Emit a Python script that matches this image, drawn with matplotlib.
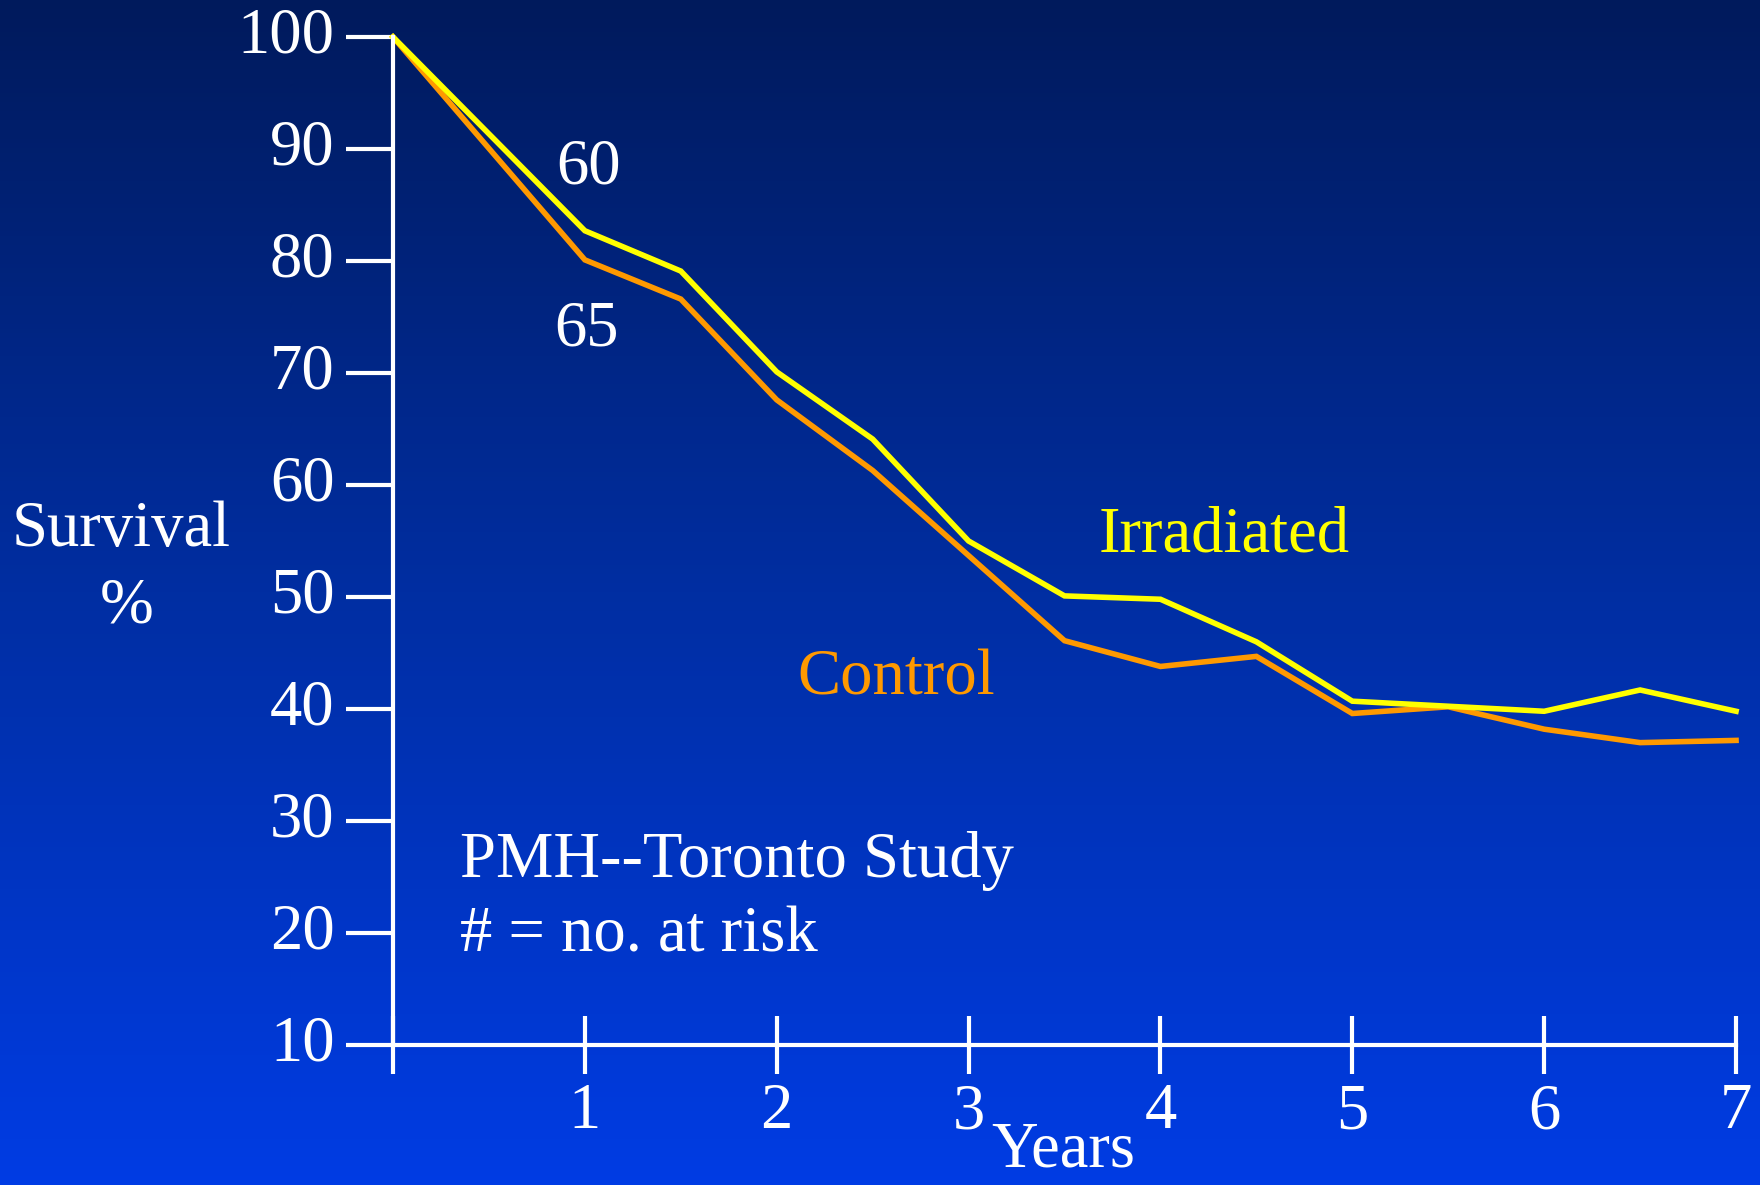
import numpy as np
import matplotlib.pyplot as plt
from matplotlib.colors import LinearSegmentedColormap

# Survival curves (percent)
irr_years = [0, 1, 1.5, 2, 2.5, 3, 3.5, 4, 4.5, 5, 6, 6.5, 7]
irr_surv = [100, 82.7, 79.1, 70.1, 64.1, 55.0, 50.1, 49.8, 46.0, 40.7, 39.8, 41.7, 39.8]

ctl_years = [0, 1, 1.5, 2, 2.5, 3, 3.5, 4, 4.5, 5, 5.5, 6, 6.5, 7]
ctl_surv = [100, 80.1, 76.6, 67.6, 61.3, 53.7, 46.1, 43.8, 44.7, 39.6, 40.2, 38.2, 37.0, 37.2]

x_ticks = [0, 1, 2, 3, 4, 5, 6, 7]
x_labels = ['', '1', '2', '3', '4', '5', '6', '7']
y_ticks = [10, 20, 30, 40, 50, 60, 70, 80, 90, 100]

plt.rcParams['font.family'] = ['Liberation Serif', 'DejaVu Serif']
FS = 46.5

fig = plt.figure(figsize=(17.6, 11.85), dpi=100)

# background gradient, dark navy at top to bright blue at bottom
bg = fig.add_axes([0, 0, 1, 1], zorder=-10)
cmap = LinearSegmentedColormap.from_list('slide', ['#001a5c', '#002ea2', '#003ce4'])
grad = np.linspace(0, 1, 256).reshape(-1, 1)
bg.imshow(grad, aspect='auto', cmap=cmap, extent=[0, 1, 0, 1], origin='upper')
bg.axis('off')

ax = fig.add_axes([0.2233, 0.1181, 0.9864 - 0.2233, 0.9688 - 0.1181])
ax.patch.set_alpha(0)

ax.plot(ctl_years, ctl_surv, color='#ff9900', lw=4, solid_joinstyle='miter', clip_on=False)
ax.plot(irr_years, irr_surv, color='#ffff00', lw=4, solid_joinstyle='miter', clip_on=False)

ax.set_xlim(0, 7)
ax.set_ylim(10, 100)

for s in ['top', 'right']:
    ax.spines[s].set_visible(False)
for s in ['left', 'bottom']:
    ax.spines[s].set_color('white')
    ax.spines[s].set_linewidth(3)

ax.set_yticks(y_ticks)
ax.set_yticklabels([str(v) for v in y_ticks])
ax.tick_params(axis='y', direction='out', length=34, width=3, color='white',
               labelcolor='white', labelsize=FS, pad=8)
for lbl in ax.get_yticklabels():
    lbl.set_va('center')

ax.set_xticks(x_ticks)
ax.set_xticklabels(x_labels)
ax.tick_params(axis='x', direction='inout', length=42, width=3, color='white',
               labelcolor='white', labelsize=FS, pad=6)

# annotations
ax.text(1.02, 88.3, '60', color='white', fontsize=FS, ha='center', va='center')
ax.text(1.01, 73.9, '65', color='white', fontsize=FS, ha='center', va='center')
ax.text(3.68, 55.5, 'Irradiated', color='#ffff00', fontsize=FS, ha='left', va='center')
ax.text(2.11, 42.7, 'Control', color='#ff9900', fontsize=FS, ha='left', va='center')
ax.text(0.35, 26.4, 'PMH--Toronto Study', color='white', fontsize=FS, ha='left', va='center')
ax.text(0.35, 19.8, '# = no. at risk', color='white', fontsize=FS, ha='left', va='center')

fig.text(0.0688, 0.5527, 'Survival', color='white', fontsize=FS, ha='center', va='center')
fig.text(0.072, 0.4878, '%', color='white', fontsize=FS, ha='center', va='center')
fig.text(0.604, 0.004, 'Years', color='white', fontsize=FS, ha='center', va='bottom')

fig.savefig('out.png', dpi=100)
